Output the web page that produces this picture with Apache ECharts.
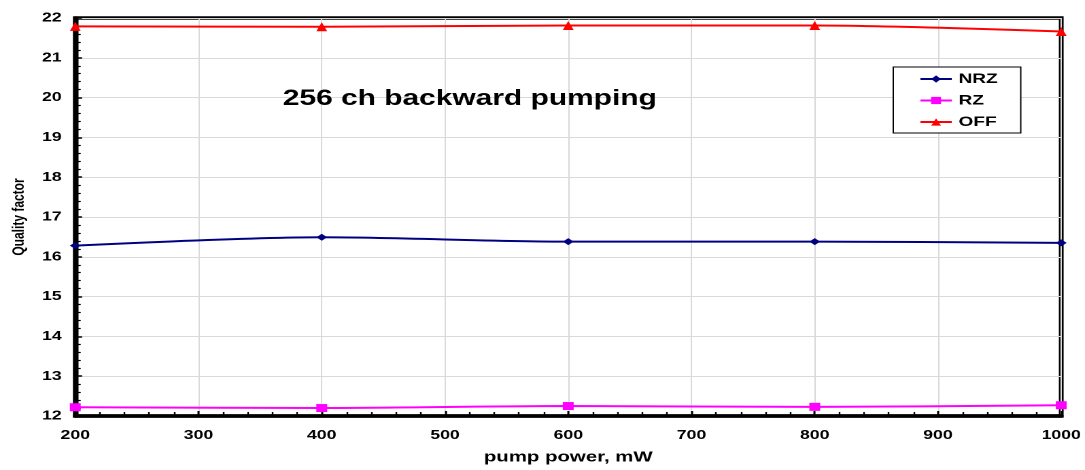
<!DOCTYPE html>
<html><head><meta charset="utf-8">
<script src="https://cdn.jsdelivr.net/npm/echarts@6/dist/echarts.min.js"></script>
<style>
html,body{margin:0;padding:0;background:#fff;overflow:hidden;width:1085px;height:470px}
#c{width:798px;height:470px;transform:scaleX(1.3596);transform-origin:0 0}
</style>
</head><body><div id="c"></div>
<script>
const categories = [200, 400, 600, 800, 1000];
const nrz = [16.28, 16.49, 16.38, 16.38, 16.35];
const rz = [12.22, 12.2, 12.25, 12.23, 12.27];
const off = [21.79, 21.78, 21.81, 21.81, 21.66];
const seriesNames = ['NRZ', 'RZ', 'OFF'];
const chartTitle = '256 ch backward pumping';
const xName = 'pump power, mW';
const yName = 'Quality factor';

const F = 'Liberation Sans, Arial, sans-serif';
const chart = echarts.init(document.getElementById('c'), null, {devicePixelRatio: 2});
function pts(v){ return categories.map((x,i)=>[x,v[i]]); }
chart.setOption({
  animation:false,
  title:{text:chartTitle,left:208,top:88,padding:0,textStyle:{fontFamily:F,fontWeight:'bold',fontSize:22,color:'#000'}},
  legend:{orient:'vertical',left:657,top:67,itemGap:7.5,itemWidth:23,itemHeight:9,
    borderColor:'#000',borderWidth:1,padding:[5,17,4,19],backgroundColor:'#fff',
    textStyle:{fontFamily:F,fontWeight:'bold',fontSize:14,lineHeight:14,color:'#000'},
    data:seriesNames},
  grid:{left:54,right:15,top:18,bottom:50,show:true,borderColor:'#000',borderWidth:3.5},
  xAxis:{type:'value',min:200,max:1000,interval:100,
    name:xName,nameLocation:'middle',nameGap:34,
    nameTextStyle:{fontFamily:F,fontWeight:'bold',fontSize:15,color:'#000'},
    axisLine:{lineStyle:{color:'#000',width:3.5}},
    axisTick:{inside:true,length:5,lineStyle:{color:'#000',width:1.5}},
    minorTick:{show:true,splitNumber:5,length:4,lineStyle:{color:'#000',width:1.2}},
    axisLabel:{margin:13,fontFamily:F,fontWeight:'bold',fontSize:13,color:'#000',formatter:v=>String(v)},
    splitLine:{show:true,lineStyle:{color:'#d9d9d9',width:1}}},
  yAxis:{type:'value',min:12,max:22,interval:1,
    name:yName,nameLocation:'middle',nameGap:34,
    nameTextStyle:{fontFamily:F,fontWeight:'bold',fontSize:12,color:'#000'},
    axisLine:{lineStyle:{color:'#000',width:3.5}},
    axisTick:{inside:true,length:5,lineStyle:{color:'#000',width:1.5}},
    minorTick:{show:true,splitNumber:5,length:4,lineStyle:{color:'#000',width:1.2}},
    axisLabel:{margin:10,fontFamily:F,fontWeight:'bold',fontSize:13,color:'#000'},
    splitLine:{show:true,lineStyle:{color:'#d9d9d9',width:1}}},
  series:[
    {name:'NRZ',type:'line',data:pts(nrz),smooth:0.3,symbol:'diamond',symbolSize:[8,7],
      lineStyle:{color:'#000080',width:2},itemStyle:{color:'#000080'}},
    {name:'RZ',type:'line',data:pts(rz),smooth:0.3,symbol:'rect',symbolSize:8,
      lineStyle:{color:'#ff00ff',width:2},itemStyle:{color:'#ff00ff'}},
    {name:'OFF',type:'line',data:pts(off),smooth:0.3,symbol:'triangle',symbolSize:[8,9],
      lineStyle:{color:'#ff0000',width:2},itemStyle:{color:'#ff0000'}}
  ]
});
</script></body></html>
